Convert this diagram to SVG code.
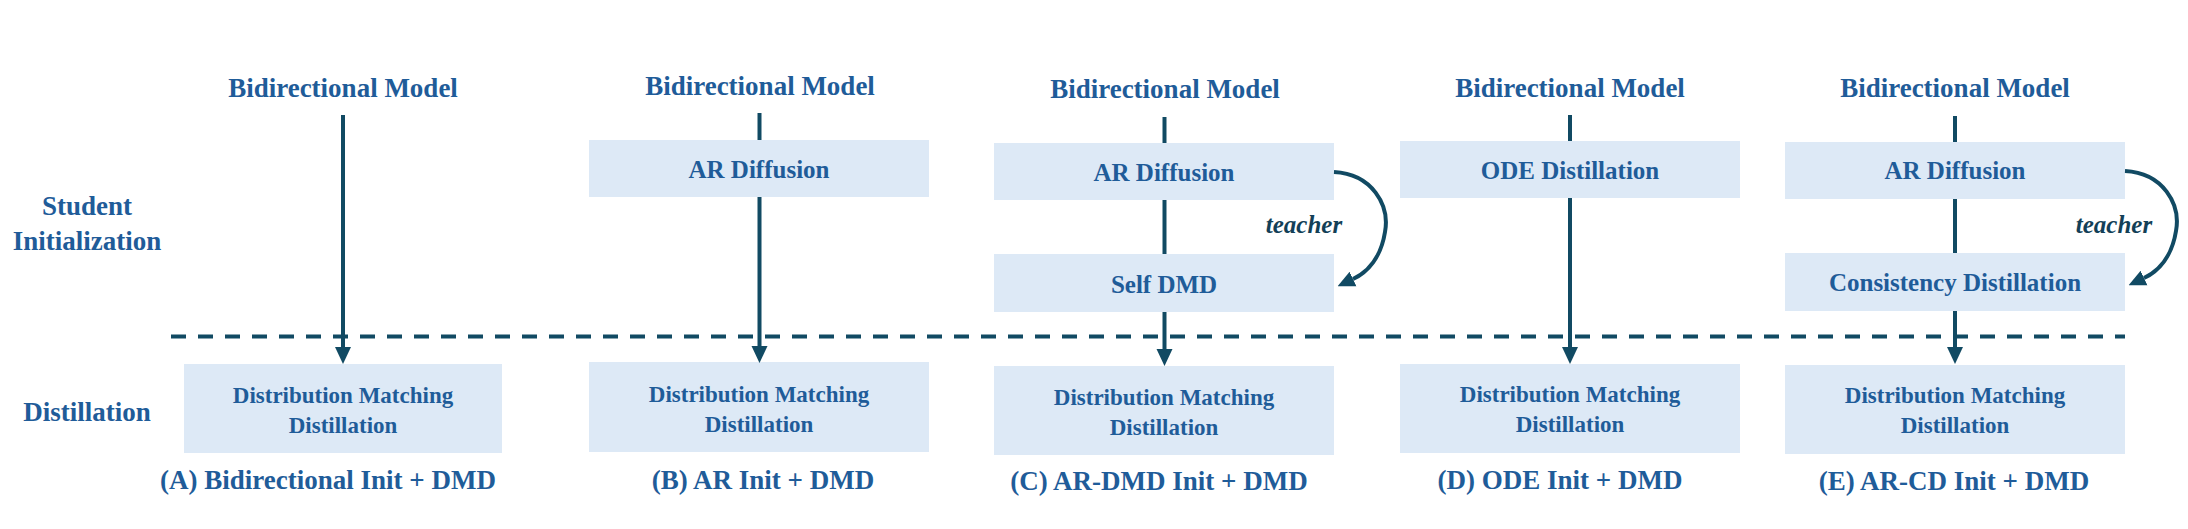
<svg xmlns="http://www.w3.org/2000/svg" width="2188" height="529" viewBox="0 0 2188 529">
<defs>
<style>
text{font-family:"Liberation Serif","Times New Roman",serif;font-weight:bold;fill:#1F5C99;text-anchor:middle}
.h{font-size:27px}
.cap{font-size:27px}
.lbl{font-size:27px}
.bt{font-size:25px}
.dt{font-size:23px}
.tc{font-size:25px;font-style:italic;fill:#133F57}
.box{fill:#DDE9F6}
.ln{stroke:#114A63;stroke-width:4;fill:none}
.dash{stroke:#114A63;stroke-width:4;fill:none;stroke-dasharray:15 12}
</style>
<marker id="ah" markerUnits="userSpaceOnUse" markerWidth="17" markerHeight="17" refX="0" refY="8" orient="auto" viewBox="0 0 17 16">
<path d="M0,0 L17,8 L0,16 z" fill="#114A63"/>
</marker>
</defs>
<rect width="2188" height="529" fill="#FFFFFF"/>

<g id="row-labels">
<text class="lbl" x="87" y="215">Student</text>
<text class="lbl" x="87" y="250">Initialization</text>
<text class="lbl" x="87" y="421">Distillation</text>
</g>

<g id="colA">
<text class="h" x="343" y="97">Bidirectional Model</text>
<rect class="box" x="184" y="364" width="318" height="89"/>
<text class="dt" x="343" y="403">Distribution Matching</text>
<text class="dt" x="343" y="433">Distillation</text>
<text class="cap" x="328" y="489">(A) Bidirectional Init + DMD</text>
</g>

<g id="colB">
<text class="h" x="760" y="95">Bidirectional Model</text>
<rect class="box" x="589" y="140" width="340" height="57"/>
<text class="bt" x="759" y="178">AR Diffusion</text>
<rect class="box" x="589" y="362" width="340" height="90"/>
<text class="dt" x="759" y="402">Distribution Matching</text>
<text class="dt" x="759" y="432">Distillation</text>
<text class="cap" x="763" y="489">(B) AR Init + DMD</text>
</g>

<g id="colC">
<text class="h" x="1165" y="98">Bidirectional Model</text>
<rect class="box" x="994" y="143" width="340" height="57"/>
<text class="bt" x="1164" y="181">AR Diffusion</text>
<rect class="box" x="994" y="254" width="340" height="58"/>
<text class="bt" x="1164" y="293">Self DMD</text>
<rect class="box" x="994" y="366" width="340" height="89"/>
<text class="dt" x="1164" y="405">Distribution Matching</text>
<text class="dt" x="1164" y="435">Distillation</text>
<text class="tc" x="1304" y="233">teacher</text>
<text class="cap" x="1159" y="490">(C) AR-DMD Init + DMD</text>
</g>

<g id="colD">
<text class="h" x="1570" y="97">Bidirectional Model</text>
<rect class="box" x="1400" y="141" width="340" height="57"/>
<text class="bt" x="1570" y="179">ODE Distillation</text>
<rect class="box" x="1400" y="364" width="340" height="89"/>
<text class="dt" x="1570" y="402">Distribution Matching</text>
<text class="dt" x="1570" y="432">Distillation</text>
<text class="cap" x="1560" y="489">(D) ODE Init + DMD</text>
</g>

<g id="colE">
<text class="h" x="1955" y="97">Bidirectional Model</text>
<rect class="box" x="1785" y="142" width="340" height="57"/>
<text class="bt" x="1955" y="179">AR Diffusion</text>
<rect class="box" x="1785" y="253" width="340" height="58"/>
<text class="bt" x="1955" y="291">Consistency Distillation</text>
<rect class="box" x="1785" y="365" width="340" height="89"/>
<text class="dt" x="1955" y="403">Distribution Matching</text>
<text class="dt" x="1955" y="433">Distillation</text>
<text class="tc" x="2114" y="233">teacher</text>
<text class="cap" x="1954" y="490">(E) AR-CD Init + DMD</text>
</g>

<g id="connectors">
<line class="dash" x1="171" y1="336.5" x2="2125" y2="336.5"/>
<line class="ln" x1="343" y1="115" x2="343" y2="347" marker-end="url(#ah)"/>
<line class="ln" x1="759.5" y1="113" x2="759.5" y2="140"/>
<line class="ln" x1="759.5" y1="197" x2="759.5" y2="346" marker-end="url(#ah)"/>
<line class="ln" x1="1164.5" y1="117" x2="1164.5" y2="143"/>
<line class="ln" x1="1164.5" y1="200" x2="1164.5" y2="254"/>
<line class="ln" x1="1164.5" y1="312" x2="1164.5" y2="349" marker-end="url(#ah)"/>
<line class="ln" x1="1570" y1="115" x2="1570" y2="141"/>
<line class="ln" x1="1570" y1="198" x2="1570" y2="347" marker-end="url(#ah)"/>
<line class="ln" x1="1955" y1="116" x2="1955" y2="142"/>
<line class="ln" x1="1955" y1="199" x2="1955" y2="253"/>
<line class="ln" x1="1955" y1="311" x2="1955" y2="347" marker-end="url(#ah)"/>
<path class="ln" d="M1334,172 C1372,174 1390,205 1385,232 C1381,257 1368,272 1353,279" marker-end="url(#ah)"/>
<path class="ln" d="M2125,171 C2163,173 2181,204 2176,231 C2172,256 2159,271 2144,278" marker-end="url(#ah)"/>
</g>
</svg>
